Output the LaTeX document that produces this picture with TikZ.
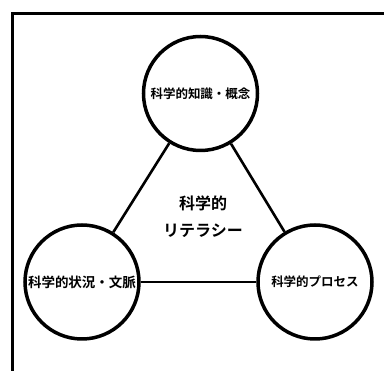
\documentclass[tikz,border=0pt]{standalone}
\usepackage{fontspec}
\newfontfamily\cjk{Noto Sans CJK JP Bold}
\begin{document}
\begin{tikzpicture}[x=1pt,y=-1pt,
  circ/.style={circle,draw=black,line width=3.5pt,minimum size=114pt,inner sep=0pt,fill=white},
  lbl/.style={font=\cjk\fontsize{12.5}{14}\selectfont},
  conn/.style={line width=2.6pt}]
\useasboundingbox (0,0) rectangle (384,371);
\draw[line width=2.6pt] (12.5,371) -- (12.5,13.5) -- (384,13.5);
\node[circ] (top) at (200.5,93.5) {};
\node[circ] (left) at (82,282) {};
\node[circ] (right) at (315,282) {};
\draw[conn] (top) -- (left);
\draw[conn] (top) -- (right);
\draw[conn] (left) -- (right);
\node[lbl] (tt) at (top) {科学的知識・概念};
\node[lbl,font=\cjk\fontsize{13.5}{15}\selectfont] (lt) at (left) {科学的状況・文脈};
\node[lbl] (rt) at (right) {科学的プロセス};
\node[font=\cjk\fontsize{16}{27}\selectfont,align=center] (c) at (203,217) {科学的\\リテラシー};
\end{tikzpicture}
\end{document}
